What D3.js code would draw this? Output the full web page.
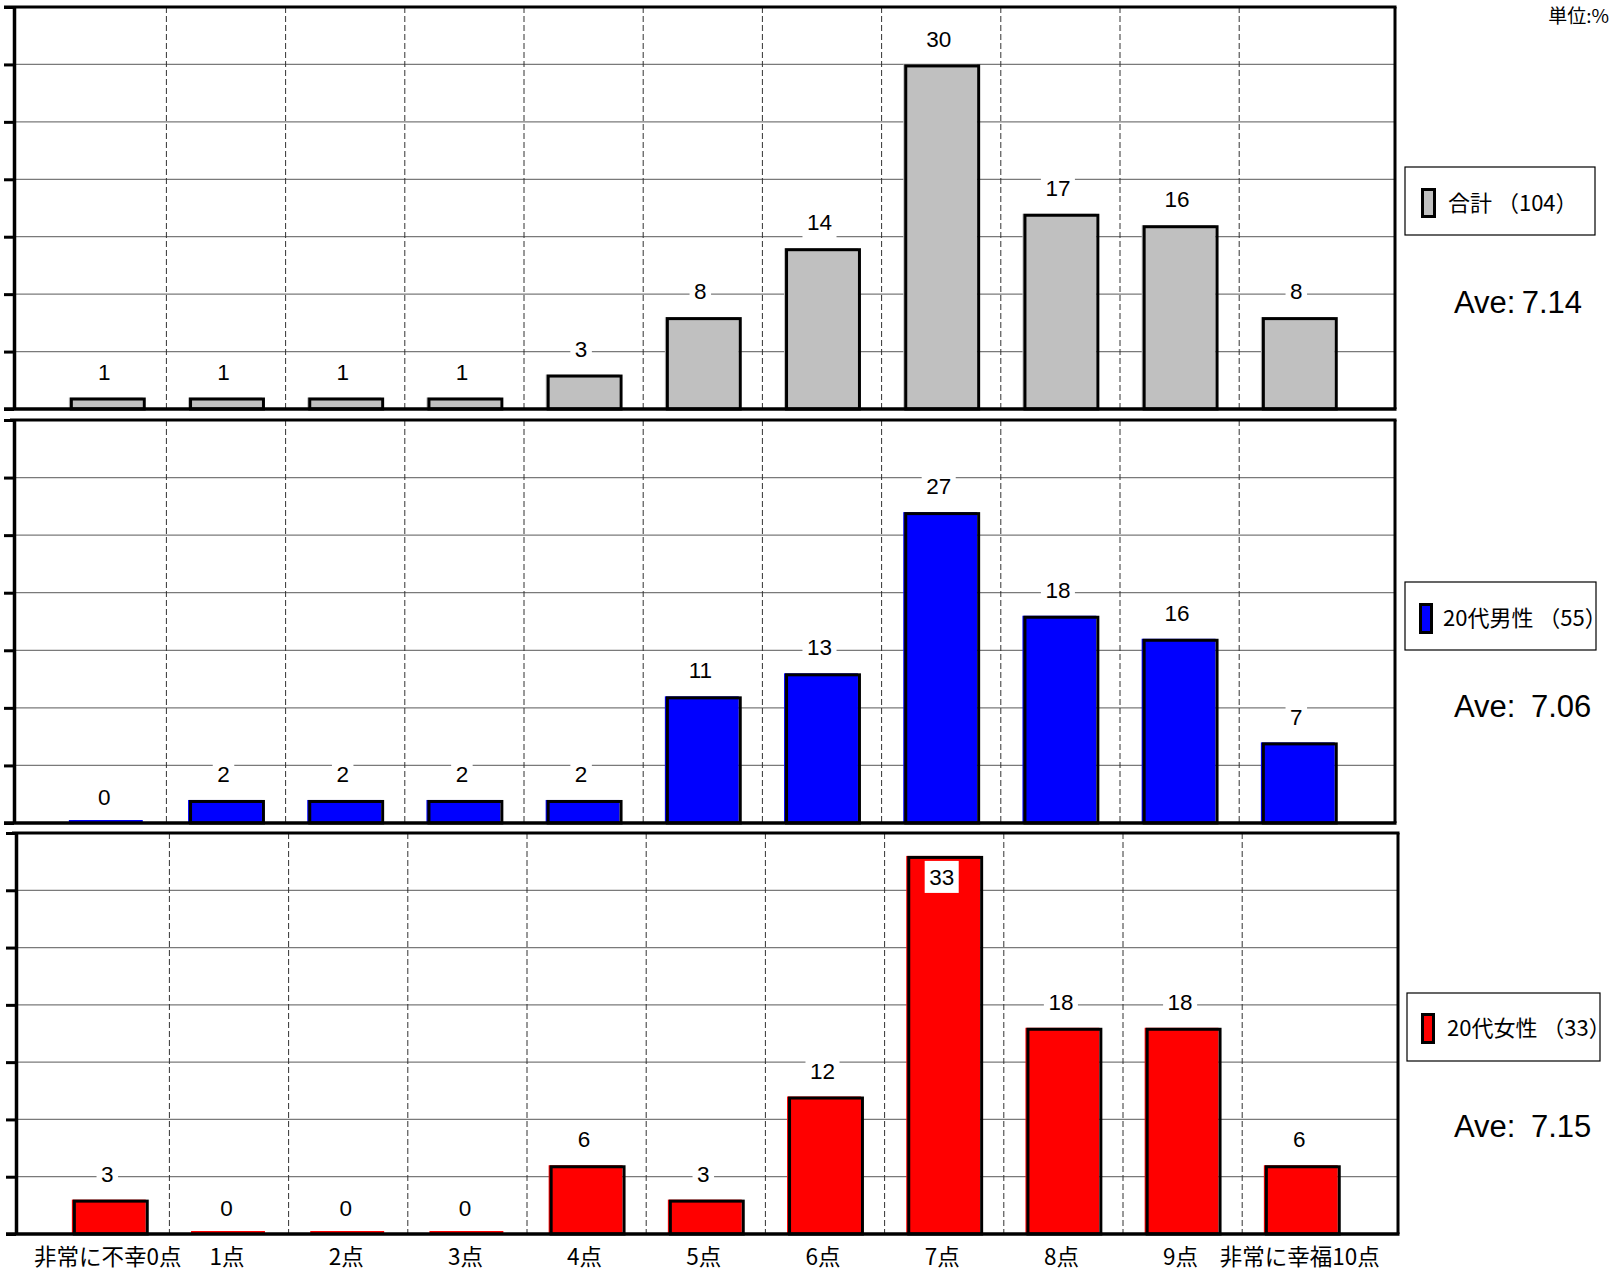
<!DOCTYPE html>
<html lang="ja">
<head>
<meta charset="utf-8">
<script src="https://cdn.jsdelivr.net/npm/d3@7"></script>
<style>
  html, body { margin: 0; padding: 0; background: #fff; }
  svg { display: block; }
</style>
</head>
<body>
<svg id="chart" width="1616" height="1274"></svg>
<script>
// Happiness score distribution (0–10 points), percent of respondents
const categories = ["非常に不幸0点", "1点", "2点", "3点", "4点", "5点", "6点", "7点", "8点", "9点", "非常に幸福10点"];
const totalValues  = [1, 1, 1, 1, 3, 8, 14, 30, 17, 16, 8];
const maleValues   = [0, 2, 2, 2, 2, 11, 13, 27, 18, 16, 7];
const femaleValues = [3, 0, 0, 0, 6, 3, 12, 33, 18, 18, 6];
const seriesNames  = ["合計 （104）", "20代男性 （55）", "20代女性 （33）"];
const averageTexts = ["Ave:\u20097.14", "Ave:\u20027.06", "Ave:\u20027.15"];
const seriesColors = ["#c0c0c0", "#0000ff", "#ff0000"];
const yTicks = [0, 5, 10, 15, 20, 25, 30, 35];
const unitLabel = "単位:%";

const seriesValues = [totalValues, maleValues, femaleValues];

const panels = [
  { top: 7,   bottom: 409,  left: 14, right: 1395, shift: 0,
    legend: { x: 1405, y: 167, w: 190, h: 68, sx: 1422, sy: 189, sw: 13, sh: 28, tx: 1448 }, aveY: 313 },
  { top: 420, bottom: 823,  left: 14, right: 1395, shift: 0,
    legend: { x: 1405, y: 582, w: 191, h: 68, sx: 1420, sy: 604, sw: 12, sh: 29, tx: 1443 }, aveY: 717 },
  { top: 833, bottom: 1234, left: 16, right: 1398, shift: 3,
    legend: { x: 1407, y: 993, w: 193, h: 68, sx: 1422, sy: 1014, sw: 12, sh: 29, tx: 1447 }, aveY: 1137 }
];

const svg = d3.select("#chart");
const latin = "'Liberation Sans', Arial, sans-serif";
const cjk = "'Noto Sans CJK JP', 'Noto Sans', sans-serif";

panels.forEach((p, pi) => {
  const values = seriesValues[pi];
  const color = seriesColors[pi];
  const g = svg.append("g");

  const x = d3.scaleBand()
    .domain(categories)
    .range([47.2 + p.shift, 1358.4 + p.shift])
    .paddingInner(0.38)
    .paddingOuter(0.19);
  const y = d3.scaleLinear().domain([0, 35]).range([p.bottom, p.top]);
  const bw = x.bandwidth();
  const gap = (x.step() - bw) / 2;

  // horizontal gridlines
  g.append("g").selectAll("line")
    .data(yTicks.filter(t => t > 0 && t < 35))
    .join("line")
    .attr("x1", p.left).attr("x2", p.right)
    .attr("y1", d => y(d)).attr("y2", d => y(d))
    .attr("stroke", "#7a7a7a").attr("stroke-width", 1.3);

  // dashed category separators
  g.append("g").selectAll("line")
    .data(categories.slice(1))
    .join("line")
    .attr("x1", d => x(d) - gap).attr("x2", d => x(d) - gap)
    .attr("y1", p.top).attr("y2", p.bottom + (pi === 2 ? 4 : 0))
    .attr("stroke", "#333").attr("stroke-width", 1)
    .attr("stroke-dasharray", "6,3");

  const data = categories.map((c, i) => ({ c, v: values[i] }));

  // bar fills
  g.append("g").selectAll("rect")
    .data(data)
    .join("rect")
    .attr("x", d => x(d.c) - 1)
    .attr("width", bw)
    .attr("y", d => d.v > 0 ? y(d.v) : p.bottom - 3)
    .attr("height", d => d.v > 0 ? p.bottom - y(d.v) : 3)
    .attr("fill", color);

  // bar outlines (slightly offset, as in the original rendering)
  g.append("g").selectAll("rect")
    .data(data.filter(d => d.v > 0))
    .join("rect")
    .attr("x", d => x(d.c) + 1.5)
    .attr("width", bw - 1)
    .attr("y", d => y(d.v) + 1.5)
    .attr("height", d => p.bottom - y(d.v) - 1.5)
    .attr("fill", "none")
    .attr("stroke", "#000").attr("stroke-width", 3);

  // value labels with white backing boxes
  const labels = g.append("g").selectAll("g")
    .data(data)
    .join("g")
    .attr("transform", d => {
      const top = y(d.v);
      let cy = top - 26;
      if (cy - 16 < p.top) cy = top + 21;
      return `translate(${x(d.c) + bw / 2 - 2.5},${cy})`;
    });
  labels.append("rect").attr("fill", "#fff");
  labels.append("text")
    .attr("text-anchor", "middle")
    .attr("dy", "0.36em")
    .attr("font-family", latin)
    .attr("font-size", 22.5)
    .attr("fill", "#000")
    .text(d => d.v);
  labels.each(function () {
    const t = d3.select(this).select("text").node();
    const w = t.getComputedTextLength() + 9;
    d3.select(this).select("rect")
      .attr("x", -w / 2).attr("width", w)
      .attr("y", -16).attr("height", 32);
  });

  // frame: top and right borders
  g.append("line")
    .attr("x1", p.left - (pi === 0 ? 10 : 4)).attr("x2", p.right + 1.5)
    .attr("y1", p.top).attr("y2", p.top)
    .attr("stroke", "#000").attr("stroke-width", 3);
  g.append("line")
    .attr("x1", p.right).attr("x2", p.right)
    .attr("y1", p.top).attr("y2", p.bottom)
    .attr("stroke", "#000").attr("stroke-width", 3);
  // baseline
  g.append("line")
    .attr("x1", p.left - 10).attr("x2", p.right + 1.5)
    .attr("y1", p.bottom).attr("y2", p.bottom)
    .attr("stroke", "#000").attr("stroke-width", 3.5);

  // left axis with tick marks, no tick text
  const axis = g.append("g")
    .attr("transform", `translate(${p.left},0)`)
    .call(d3.axisLeft(y).tickValues(yTicks).tickSize(10).tickSizeOuter(0).tickFormat(() => ""));
  axis.select(".domain").attr("stroke", "#000").attr("stroke-width", 3.5);
  axis.selectAll(".tick line").attr("stroke", "#000").attr("stroke-width", 3);

  // category labels below the bottom panel
  if (pi === 2) {
    const xa = g.append("g")
      .attr("transform", `translate(0,${p.bottom})`)
      .call(d3.axisBottom(x).tickSize(0));
    xa.select(".domain").remove();
    xa.selectAll(".tick text")
      .attr("x", -2)
      .attr("y", 31).attr("dy", 0)
      .attr("font-family", cjk)
      .attr("font-size", 22.5)
      .attr("fill", "#000");
  }

  // legend
  const L = p.legend;
  g.append("rect")
    .attr("x", L.x).attr("y", L.y).attr("width", L.w).attr("height", L.h)
    .attr("fill", "#fff").attr("stroke", "#000").attr("stroke-width", 1.2);
  g.append("rect")
    .attr("x", L.sx - 1).attr("y", L.sy - 1).attr("width", L.sw).attr("height", L.sh)
    .attr("fill", color);
  g.append("rect")
    .attr("x", L.sx + 0.5).attr("y", L.sy + 0.5).attr("width", L.sw - 1).attr("height", L.sh - 1)
    .attr("fill", "none").attr("stroke", "#000").attr("stroke-width", 3);
  g.append("text")
    .attr("x", L.tx).attr("y", L.sy + L.sh / 2)
    .attr("dy", "0.36em")
    .attr("font-family", cjk)
    .attr("font-size", 22)
    .attr("fill", "#000")
    .text(seriesNames[pi]);

  // average score
  g.append("text")
    .attr("x", 1454).attr("y", p.aveY)
    .attr("font-family", latin)
    .attr("font-size", 31)
    .attr("fill", "#000")
    .text(averageTexts[pi]);
});

// unit note, top right
svg.append("text")
  .attr("x", 1609).attr("y", 23)
  .attr("text-anchor", "end")
  .attr("font-family", cjk)
  .attr("font-size", 19)
  .attr("fill", "#000")
  .text(unitLabel);
</script>
</body>
</html>
